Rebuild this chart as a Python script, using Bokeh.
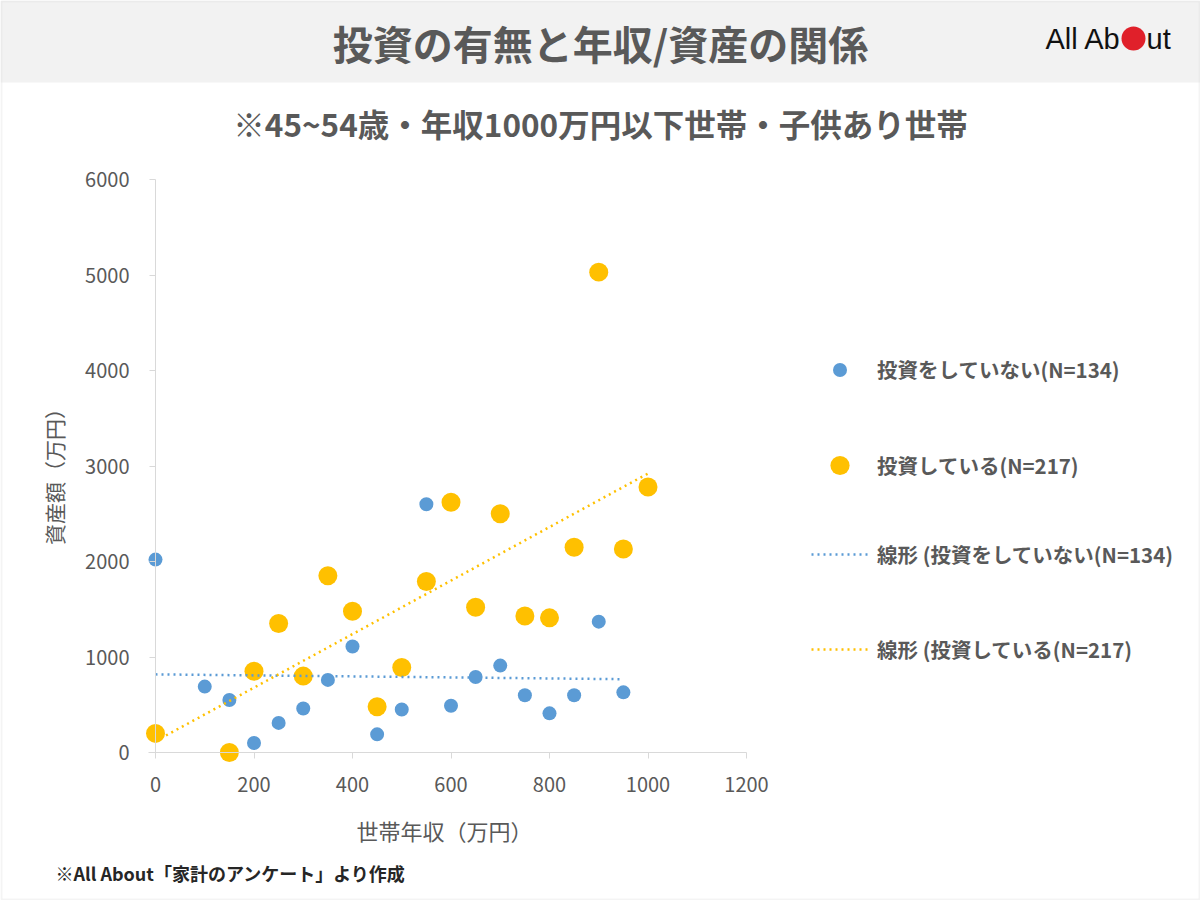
import numpy as np
from bokeh.plotting import figure
from bokeh.models import (Range1d, Label, BoxAnnotation, Legend, LegendItem,
                          FixedTicker)
from bokeh.embed import file_html
from bokeh.resources import INLINE

# 世帯年収（万円）と資産額（万円）
income_no = [0, 100, 150, 200, 250, 300, 350, 400, 450, 500,
             550, 600, 650, 700, 750, 800, 850, 900, 950]
assets_no = [2020, 690, 550, 100, 310, 460, 760, 1110, 190, 450,
             2600, 490, 790, 910, 600, 410, 600, 1370, 630]

income_yes = [0, 150, 200, 250, 300, 350, 400, 450, 500, 550,
              600, 650, 700, 750, 800, 850, 900, 950, 1000]
assets_yes = [200, 0, 850, 1350, 800, 1850, 1480, 480, 890, 1790,
              2620, 1520, 2500, 1430, 1410, 2150, 5030, 2130, 2780]

x_ticks = [0, 200, 400, 600, 800, 1000, 1200]
y_ticks = [0, 1000, 2000, 3000, 4000, 5000, 6000]

label_no = "投資をしていない(N=134)"
label_yes = "投資している(N=217)"
label_trend_no = "線形 (投資をしていない(N=134)"
label_trend_yes = "線形 (投資している(N=217)"

title_text = "投資の有無と年収/資産の関係"
subtitle_text = "※45~54歳・年収1000万円以下世帯・子供あり世帯"
x_title = "世帯年収（万円）"
y_title = "資産額（万円）"
note_text = "※All About「家計のアンケート」より作成"

BLUE = "#5b9bd5"
ORANGE = "#ffc000"
GREY_TEXT = "#595959"
AXIS = "#d9d9d9"
CJK = "Noto Sans CJK JP"
DOTS = "2 4"

W, H = 1200, 900
# origin of the axes on the page and pixels per data unit
X0_PX, X_SCALE = 155, 0.4925
Y0_PX, Y_SCALE = 752, 0.0955


def sx(cx):
    return cx


def sy(cy):
    return H - cy


p = figure(width=W, height=H, output_backend="svg", toolbar_location=None,
           title=None,
           x_range=Range1d(-X0_PX / X_SCALE, (W - X0_PX) / X_SCALE),
           y_range=Range1d((Y0_PX - H) / Y_SCALE, Y0_PX / Y_SCALE),
           min_border=0, min_border_left=0, min_border_right=0,
           min_border_top=0, min_border_bottom=0,
           background_fill_color="white", border_fill_color="white")
p.outline_line_color = None
p.xgrid.visible = False
p.ygrid.visible = False

# axes crossing at the origin
for ax, ticks in ((p.xaxis[0], x_ticks), (p.yaxis[0], y_ticks)):
    ax.fixed_location = 0
    ax.ticker = FixedTicker(ticks=ticks)
    ax.axis_line_color = AXIS
    ax.major_tick_line_color = AXIS
    ax.minor_tick_line_color = None
    ax.major_tick_in = 0
    ax.major_tick_out = 6
    ax.major_label_text_font = CJK
    ax.major_label_text_font_size = "20px"
    ax.major_label_text_color = GREY_TEXT
p.xaxis.bounds = (-15, 1200)
p.yaxis.bounds = (0, 6000)
p.xaxis.major_label_standoff = 18
p.yaxis.major_label_standoff = 20

# header band and page border
p.add_layout(BoxAnnotation(left=sx(0), right=sx(W), top=sy(0), bottom=sy(82),
                           left_units="screen", right_units="screen",
                           top_units="screen", bottom_units="screen",
                           fill_color="#f2f2f2", fill_alpha=1.0,
                           line_color=None, level="underlay"))
p.add_layout(BoxAnnotation(left=sx(1), right=sx(W - 1), top=sy(1), bottom=sy(H - 1),
                           left_units="screen", right_units="screen",
                           top_units="screen", bottom_units="screen",
                           fill_alpha=0, line_color="#dcdcdc", line_width=2,
                           level="overlay"))

# scatter series
r_no = p.scatter(income_no, assets_no, size=14, color=BLUE, line_color=None)
r_yes = p.scatter(income_yes, assets_yes, size=19, color=ORANGE, line_color=None)


# linear trend lines (least squares)
def trend(xs, ys):
    k, b = np.polyfit(xs, ys, 1)
    x0, x1 = min(xs), max(xs)
    return [x0, x1], [k * x0 + b, k * x1 + b]


tx, ty = trend(income_no, assets_no)
r_tno = p.line(tx, ty, line_color=BLUE, line_width=2.5, line_dash=DOTS)
tx, ty = trend(income_yes, assets_yes)
r_tyes = p.line(tx, ty, line_color=ORANGE, line_width=2.5, line_dash=DOTS)


# legend entries, one block each so marker sizes follow the series
def legend_entry(label, renderer, cy, gh):
    lg = Legend(items=[LegendItem(label=label, renderers=[renderer])],
                location=(sx(811), sy(cy + gh / 2)),
                glyph_width=57, glyph_height=gh, label_height=gh,
                label_standoff=9, padding=0, margin=0, spacing=0,
                border_line_color=None, background_fill_alpha=0,
                label_text_font=CJK, label_text_font_size="20.5px",
                label_text_font_style="bold", label_text_color=GREY_TEXT)
    p.add_layout(lg)


legend_entry(label_no, r_no, 369, 35)
legend_entry(label_yes, r_yes, 465, 48)
legend_entry(label_trend_no, r_tno, 559, 20)
legend_entry(label_trend_yes, r_tyes, 654, 20)


def text(t, cx, cy, size, color=GREY_TEXT, bold=False, align="center",
         font=CJK, angle=0.0):
    p.add_layout(Label(x=sx(cx), y=sy(cy), x_units="screen", y_units="screen",
                       text=t, text_font=font, text_font_size=size,
                       text_font_style="bold" if bold else "normal",
                       text_color=color, text_align=align,
                       text_baseline="middle", angle=angle))


text(title_text, 600, 42, "40px", bold=True)
text(subtitle_text, 600, 122, "31.5px", bold=True)
text(x_title, 444, 829, "22px")
text(y_title, 53, 471, "21px", angle=np.pi / 2)
text(note_text, 55, 872, "18px", color="#262626", bold=True, align="left")

# logo
text("All Ab", 1045, 38, "29px", color="#111111", align="left",
     font="Liberation Sans")
text("ut", 1146, 38, "29px", color="#111111", align="left",
     font="Liberation Sans")
p.add_layout(BoxAnnotation(left=sx(1121), right=sx(1145), top=sy(26), bottom=sy(50),
                           left_units="screen", right_units="screen",
                           top_units="screen", bottom_units="screen",
                           fill_color="#e0202a", fill_alpha=1.0, line_color=None,
                           border_radius=12))

open("out.html", "w").write(file_html(p, INLINE))
